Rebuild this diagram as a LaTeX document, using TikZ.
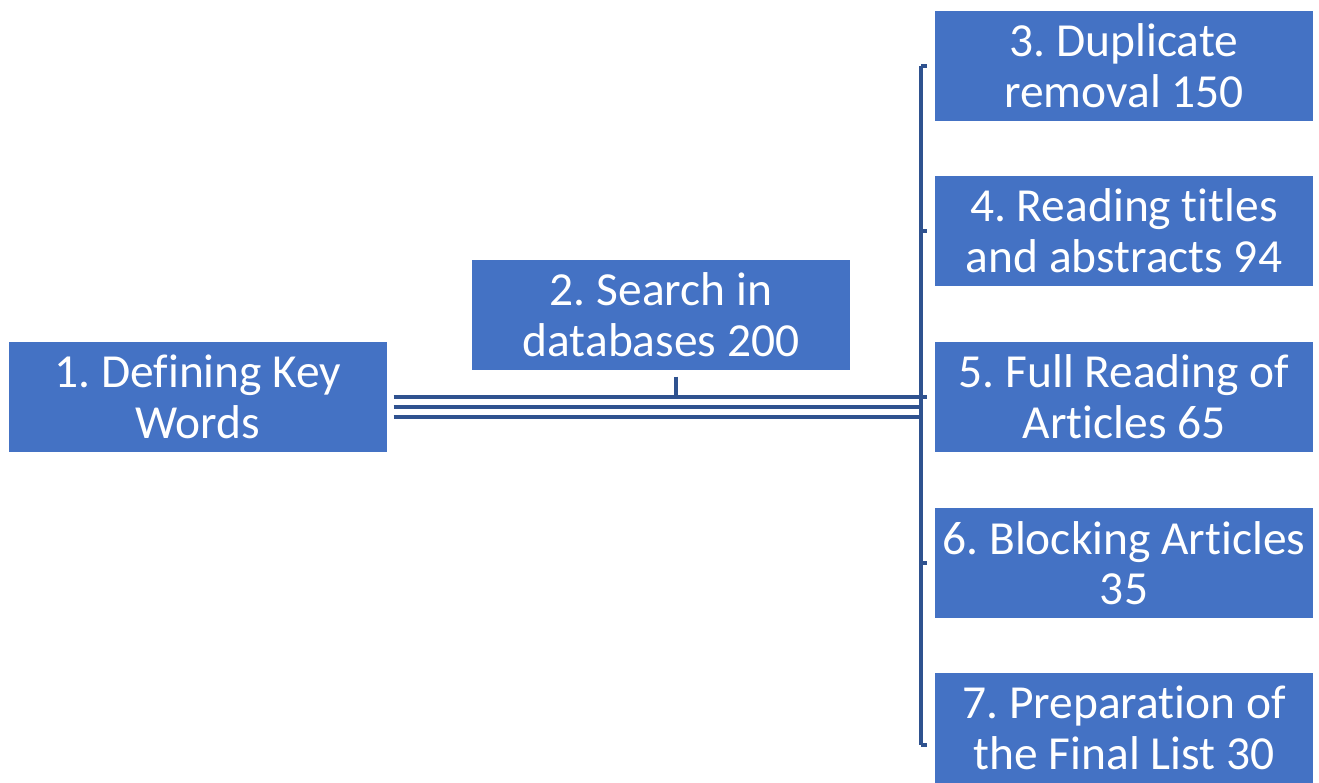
\documentclass[tikz,border=0pt]{standalone}
\usepackage{fontspec}
\setmainfont{Carlito}[Ligatures=NoCommon]
\usepackage{xcolor}
\usetikzlibrary{positioning,calc}
\definecolor{boxblue}{HTML}{4472C4}
\definecolor{linkblue}{HTML}{2F528F}

\tikzset{
  stage/.style={fill=boxblue, draw=white, line width=0.4pt, text=white,
    minimum width=3.8cm, minimum height=1.12cm,
    align=center, inner sep=0pt, font=\frenchspacing\fontsize{13.5}{14.4}\selectfont},
  link/.style={draw=linkblue, line width=1.2pt}
}

\begin{document}
\begin{tikzpicture}
    \useasboundingbox (0,0) rectangle (13.19,7.82);
    \node [stage] (key) at (1.98,3.85) {1. Defining Key\\Words};
    \node [stage] (search) at (6.61,4.67) {2. Search in\\databases 200};

    \node [stage] (dup) at (11.24,7.16) {3. Duplicate\\removal 150};
    \node [stage] (read) at (11.24,5.51) {4. Reading titles\\and abstracts 94};
    \node [stage] (full) at (11.24,3.85) {5. Full Reading of\\Articles 65};
    \node [stage] (block) at (11.24,2.19) {6. Blocking Articles\\35};
    \node [stage] (final) at (11.24,0.54) {7. Preparation of\\the Final List 30};

    \coordinate (bus) at (9.21,0);

    % triple line to the bracket
    \draw [link] ([xshift=0.05cm]key.east) -- ([xshift=-0.06cm]full.west);
    \draw [link] ([shift={(0.05,-0.1)}]key.east) -- ([yshift=-0.1cm]key.east -| bus);
    \draw [link] ([shift={(0.05,-0.2)}]key.east) -- ([yshift=-0.2cm]key.east -| bus);
    \draw [link] ([shift={(0.15,-0.05)}]search.south) -- ([xshift=0.15cm]search.south |- key.east);

    % bracket
    \draw [link] (dup.west -| bus) -- ([yshift=-0.17cm]final.west -| bus);
    \foreach \n in {dup,read,full,block}
        \draw [link] (\n.west -| bus) -- ([xshift=-0.06cm]\n.west);
    \draw [link] ([yshift=-0.17cm]final.west -| bus) -- ([shift={(-0.06,-0.17)}]final.west);
\end{tikzpicture}
\end{document}
